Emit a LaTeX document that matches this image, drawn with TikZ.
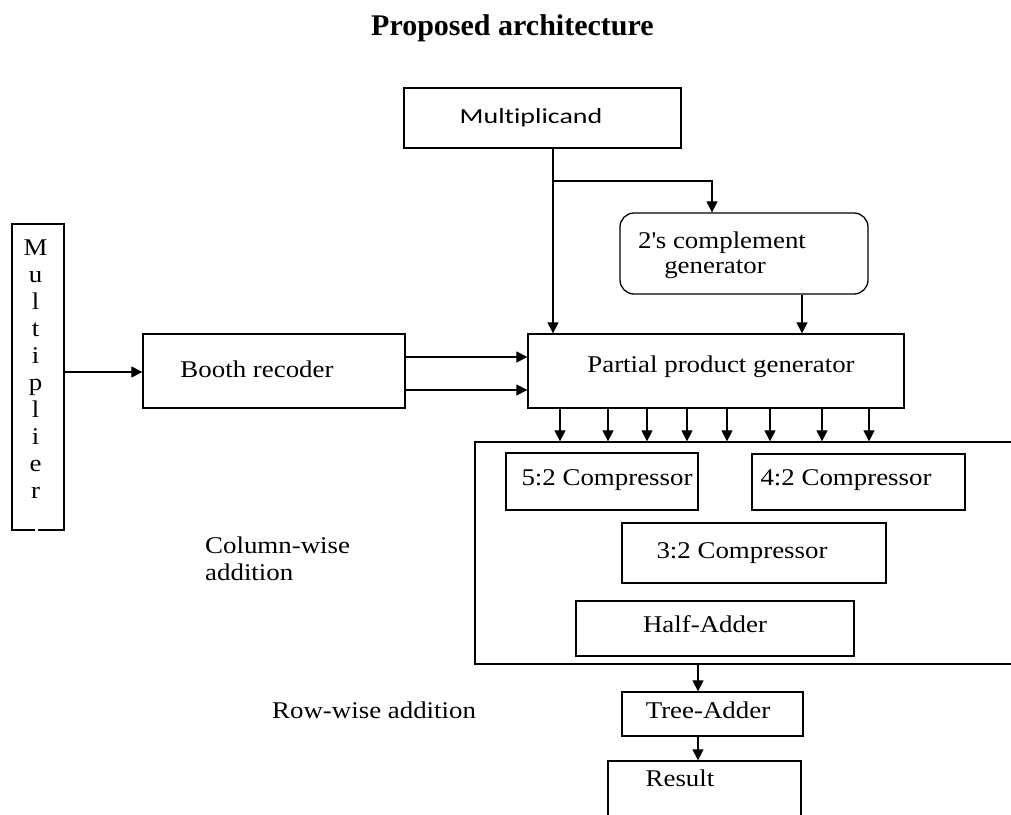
\documentclass[tikz,border=0pt]{standalone}
\usepackage{fontspec}
\setmainfont{Liberation Serif}[FakeStretch=1.12]
\newfontfamily\titlefont{Liberation Serif}
\newfontfamily\calfont{Carlito}[FakeStretch=1.3,Ligatures=NoCommon]
\usetikzlibrary{arrows.meta}
\tikzset{
  blk/.style={draw, line width=1.3pt, inner sep=0pt},
  arr/.style={line width=1.2pt, -{Triangle[length=11pt,width=11pt]}},
  txt/.style={inner sep=0pt, anchor=base, font=\fontsize{24pt}{26pt}\selectfont},
  txtw/.style={txt, anchor=base west}
}
\begin{document}
\begin{tikzpicture}[x=1pt,y=-1pt]
\useasboundingbox (0,0) rectangle (1011,814);
% title
\node[inner sep=0pt, anchor=base west, font=\titlefont\bfseries\fontsize{30pt}{32pt}\selectfont] (title) at (371,35) {Proposed architecture};
% boxes
\node[blk, minimum width=277pt, minimum height=60pt] (mcand) at (542.5,118) {};
\node[blk, rounded corners=14pt, minimum width=248pt, minimum height=81pt] (comp) at (744,253.5) {};
\node[blk, minimum width=52pt, minimum height=306pt] (mult) at (38,377) {};
\node[blk, minimum width=262pt, minimum height=74pt] (booth) at (274,371) {};
\node[blk, minimum width=376pt, minimum height=74pt] (ppg) at (716,371) {};
\node[blk, minimum width=555pt, minimum height=222pt] (big) at (752.5,553) {};
\node[blk, minimum width=192pt, minimum height=57pt] (c52) at (602,481.5) {};
\node[blk, minimum width=213pt, minimum height=56pt] (c42) at (858.5,482) {};
\node[blk, minimum width=264pt, minimum height=60pt] (c32) at (754,553) {};
\node[blk, minimum width=278pt, minimum height=55pt] (ha) at (715,628.5) {};
\node[blk, minimum width=181pt, minimum height=44pt] (tree) at (712.5,714) {};
\node[blk, minimum width=193pt, minimum height=69pt] (res) at (704.5,795.5) {};
% small gap in the bottom edge of the multiplier box
\draw[white, line width=2pt] (35,530) -- (38,530);
% texts
\node[inner sep=0pt, anchor=base, font=\calfont\fontsize{21.5pt}{24pt}\selectfont] (mcandt) at (531,123) {Multiplicand};
\node[txt] (compt1) at (722,248) {2\textquotesingle s complement};
\node[txt] (compt2) at (715,273) {generator};
\foreach \l [count=\i] in {M,u,l,t,i,p,l,i,e,r}
  \node[txt] (ml\i) at (35.5,{255+27*(\i-1)}) {\l};
\node[txt] (bootht) at (257,377) {Booth recoder};
\node[txt] (ppgt) at (721,372) {Partial product generator};
\node[txt] (c52t) at (607,485) {5:2 Compressor};
\node[txt] (c42t) at (846,485) {4:2 Compressor};
\node[txt] (c32t) at (742,558) {3:2 Compressor};
\node[txt] (hat) at (705,632) {Half-Adder};
\node[txt] (treet) at (708,718) {Tree-Adder};
\node[txt] (rest) at (680,786) {Result};
\node[txtw] (colt1) at (205,553) {Column-wise};
\node[txtw] (colt2) at (205,580) {addition};
\node[txtw] (rowt) at (272,718) {Row-wise addition};
% connectors
\draw[arr] (mult.east |- 0,372) -- (booth.west |- 0,372);
\draw[arr] (booth.east |- 0,357) -- (ppg.west |- 0,357);
\draw[arr] (booth.east |- 0,390) -- (ppg.west |- 0,390);
\draw[arr] (mcand.south -| 553,0) -- (ppg.north -| 553,0);
\coordinate (br) at (553,181);
\draw[arr] (br) -| (comp.north -| 712,0);
\draw[arr] (comp.south -| 802,0) -- (ppg.north -| 802,0);
\foreach \xx in {560,608,647,687,727,770,822,869}
  \draw[arr] (ppg.south -| \xx,0) -- (big.north -| \xx,0);
\draw[arr] (big.south -| 698,0) -- (tree.north -| 698,0);
\draw[arr] (tree.south -| 698,0) -- (res.north -| 698,0);
\end{tikzpicture}
\end{document}
